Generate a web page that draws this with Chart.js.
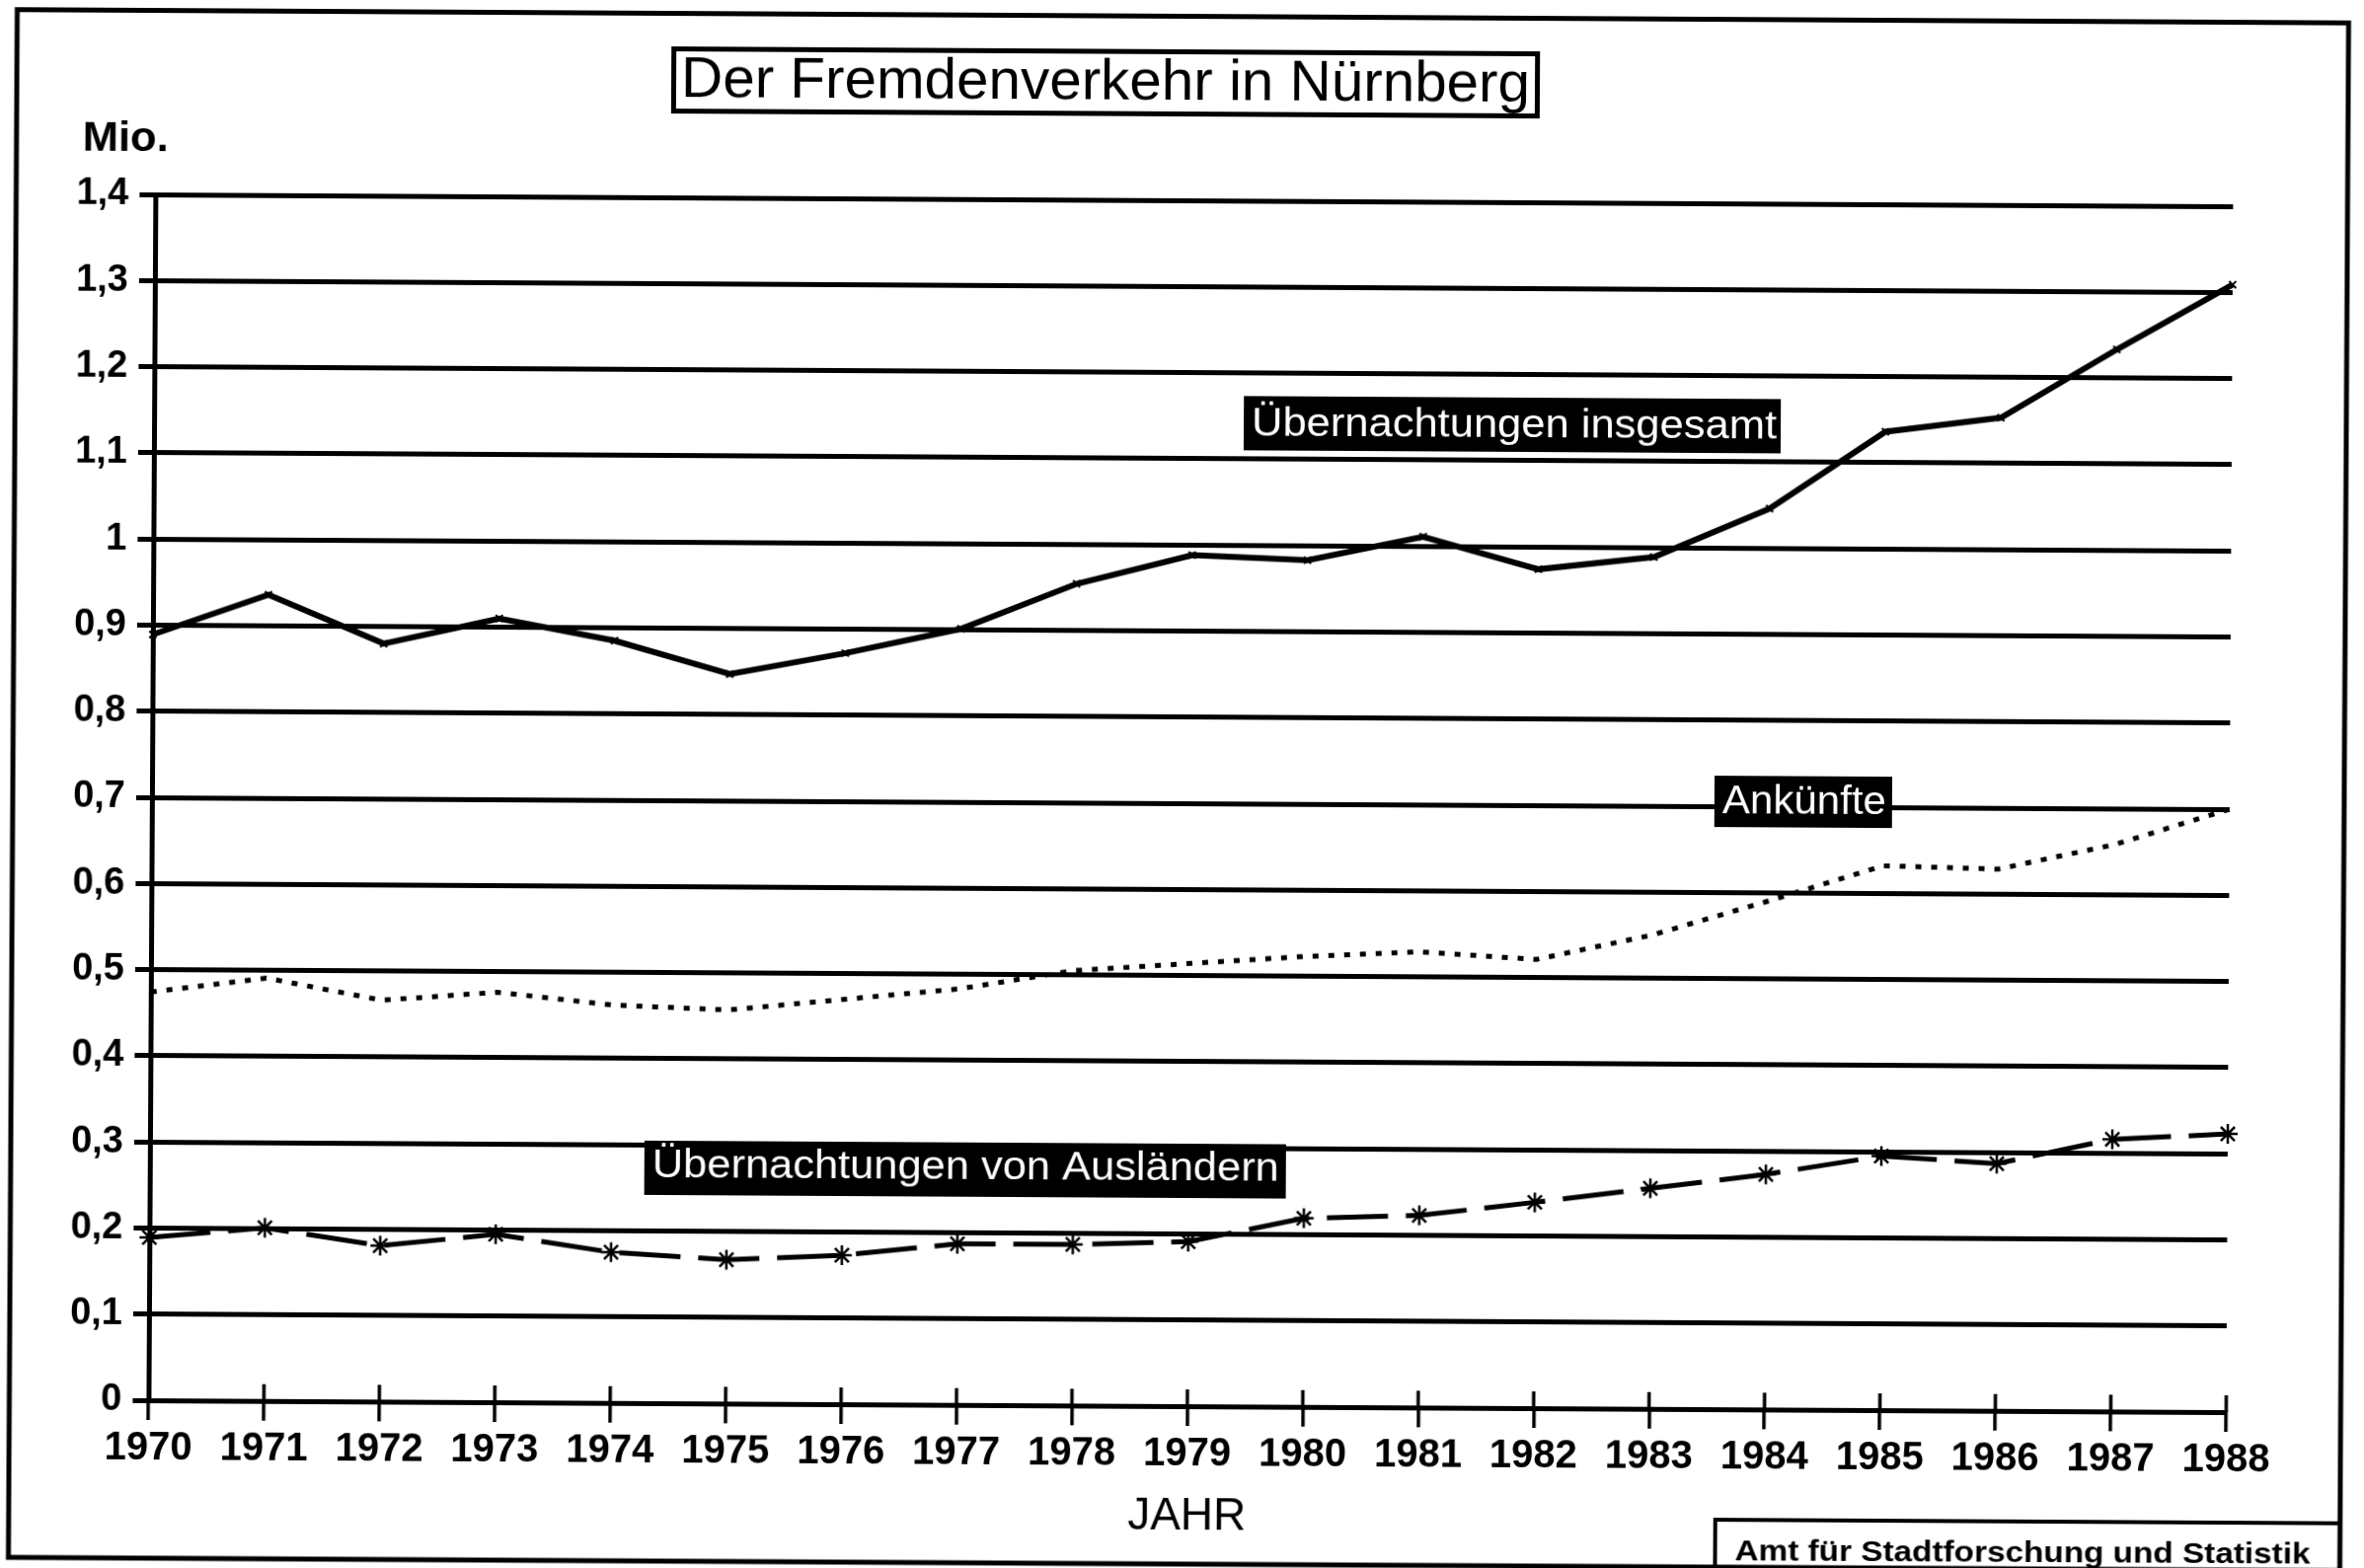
<!DOCTYPE html>
<html>
<head>
<meta charset="utf-8">
<script src="https://cdn.jsdelivr.net/npm/chart.js@4.4.1/dist/chart.umd.min.js"></script>
<style>
  html, body { margin: 0; padding: 0; background: #fff; overflow: hidden; }
  #wrap { position: absolute; left: 0; top: 0; width: 2395px; height: 1589px; transform: rotate(0.327deg); transform-origin: 50% 50%; }
  canvas { display: block; }
</style>
</head>
<body>
<div id="wrap"><canvas id="c" width="2395" height="1589"></canvas></div>
<script>
// ---- data ----
const years = ['1970','1971','1972','1973','1974','1975','1976','1977','1978','1979','1980','1981','1982','1983','1984','1985','1986','1987','1988'];
const uebernachtungenInsgesamt = [0.889, 0.936, 0.880, 0.910, 0.885, 0.847, 0.872, 0.901, 0.954, 0.988, 0.983, 1.011, 0.974, 0.989, 1.046, 1.136, 1.153, 1.233, 1.309];
const ankuenfte = [0.474, 0.491, 0.466, 0.476, 0.462, 0.457, 0.470, 0.483, 0.505, 0.514, 0.523, 0.529, 0.521, 0.550, 0.590, 0.632, 0.629, 0.658, 0.700];
const uebernachtungenAuslaender = [0.189, 0.201, 0.181, 0.195, 0.175, 0.167, 0.173, 0.187, 0.187, 0.191, 0.219, 0.223, 0.239, 0.256, 0.273, 0.295, 0.287, 0.316, 0.323];
const yTickLabels = ['0','0,1','0,2','0,3','0,4','0,5','0,6','0,7','0,8','0,9','1','1,1','1,2','1,3','1,4'];
const seriesNames = ['Übernachtungen insgesamt', 'Ankünfte', 'Übernachtungen von Ausländern'];
const chartTitle = 'Der Fremdenverkehr in Nürnberg';
const unitLabel = 'Mio.';
const xAxisTitle = 'JAHR';
const sourceNote = 'Amt für Stadtforschung und Statistik';

const FONT = "'Liberation Sans', Arial, sans-serif";

function fitText(ctx, text, x, y, font, w, color) {
  ctx.save();
  ctx.font = font;
  ctx.fillStyle = color;
  ctx.textAlign = 'left';
  ctx.textBaseline = 'alphabetic';
  const m = ctx.measureText(text).width;
  ctx.translate(x, y);
  ctx.scale(w / m, 1);
  ctx.fillText(text, 0, 0);
  ctx.restore();
}

const decor = {
  id: 'decor',
  beforeDraw(chart) {
    const ctx = chart.ctx;
    ctx.save();
    ctx.fillStyle = '#fff';
    ctx.fillRect(0, 0, chart.width, chart.height);
    ctx.restore();
  },
  afterDraw(chart) {
    const ctx = chart.ctx;
    const xs = chart.scales.x;
    ctx.save();
    // upward part of the x tick marks
    ctx.strokeStyle = '#000';
    ctx.lineWidth = 3.5;
    for (let i = 0; i < xs.ticks.length; i++) {
      const px = xs.getPixelForTick(i);
      ctx.beginPath();
      ctx.moveTo(px, xs.top - 17);
      ctx.lineTo(px, xs.top);
      ctx.stroke();
    }
    // outer frame
    ctx.lineWidth = 5;
    ctx.strokeRect(13, 16.5, 2362, 1568.5);
    // title box
    ctx.strokeRect(678.5, 52.5, 875, 63);
    fitText(ctx, chartTitle, 686, 100.5, '57px ' + FONT, 860, '#000');
    // unit label
    fitText(ctx, unitLabel, 80, 159, 'bold 43px ' + FONT, 87, '#000');
    // series labels (black boxes, white text)
    ctx.fillStyle = '#000';
    ctx.fillRect(1258, 401, 544, 55);
    fitText(ctx, seriesNames[0], 1266, 441, '40px ' + FONT, 532, '#fff');
    ctx.fillStyle = '#000';
    ctx.fillRect(1737, 783, 180, 52);
    fitText(ctx, seriesNames[1], 1745, 821, '40px ' + FONT, 166, '#fff');
    ctx.fillStyle = '#000';
    ctx.fillRect(655, 1159, 650, 55);
    fitText(ctx, seriesNames[2], 663, 1196, '40px ' + FONT, 635, '#fff');
    // source box
    ctx.strokeStyle = '#000';
    ctx.lineWidth = 4;
    ctx.beginPath();
    ctx.moveTo(1742, 1595);
    ctx.lineTo(1742, 1537);
    ctx.lineTo(2377, 1537);
    ctx.stroke();
    fitText(ctx, sourceNote, 1762, 1578, 'bold 29px ' + FONT, 583, '#000');
    ctx.restore();
  }
};

new Chart(document.getElementById('c'), {
  type: 'line',
  data: {
    labels: years,
    datasets: [
      {
        label: seriesNames[0],
        data: uebernachtungenInsgesamt,
        borderColor: '#000',
        backgroundColor: '#000',
        borderWidth: 6,
        tension: 0,
        pointStyle: 'crossRot',
        pointRadius: 5,
        pointBorderWidth: 2,
        pointBorderColor: '#000'
      },
      {
        label: seriesNames[1],
        data: ankuenfte,
        borderColor: '#000',
        borderWidth: 5,
        borderDash: [6, 10],
        borderCapStyle: 'butt',
        tension: 0,
        pointRadius: 0
      },
      {
        label: seriesNames[2],
        data: uebernachtungenAuslaender,
        borderColor: '#000',
        borderWidth: 5,
        borderDash: [62, 18],
        tension: 0,
        pointStyle: 'star',
        pointRadius: 10,
        pointBorderWidth: 2.5,
        pointBorderColor: '#000',
        pointBackgroundColor: '#000'
      }
    ]
  },
  options: {
    responsive: false,
    animation: false,
    devicePixelRatio: 1,
    layout: { padding: { left: 0, top: 203, right: 136, bottom: 0 } },
    plugins: {
      legend: { display: false },
      tooltip: { enabled: false },
      title: { display: false }
    },
    scales: {
      x: {
        type: 'category',
        offset: false,
        grid: { display: true, drawOnChartArea: false, drawTicks: true, tickLength: 20, color: '#000', lineWidth: 3.5 },
        border: { display: true, color: '#000', width: 5 },
        ticks: { font: { family: FONT, weight: 'bold', size: 40 }, color: '#000', padding: 5, maxRotation: 0, minRotation: 0, autoSkip: false },
        title: { display: true, text: xAxisTitle, font: { family: FONT, size: 46 }, color: '#000', padding: { top: 0, bottom: 24 } },
        afterFit(s) { s.height = 164; }
      },
      y: {
        min: 0,
        max: 1.4,
        ticks: {
          stepSize: 0.1,
          maxTicksLimit: 20,
          autoSkip: false,
          callback: (v) => yTickLabels[Math.round(v * 10)],
          font: { family: FONT, weight: 'bold', size: 38 },
          color: '#000',
          padding: 11
        },
        grid: { color: '#000', lineWidth: 5, drawTicks: true, tickLength: 16 },
        border: { display: true, color: '#000', width: 5 },
        afterFit(s) { s.width = 154; }
      }
    }
  },
  plugins: [decor]
});
</script>
</body>
</html>
